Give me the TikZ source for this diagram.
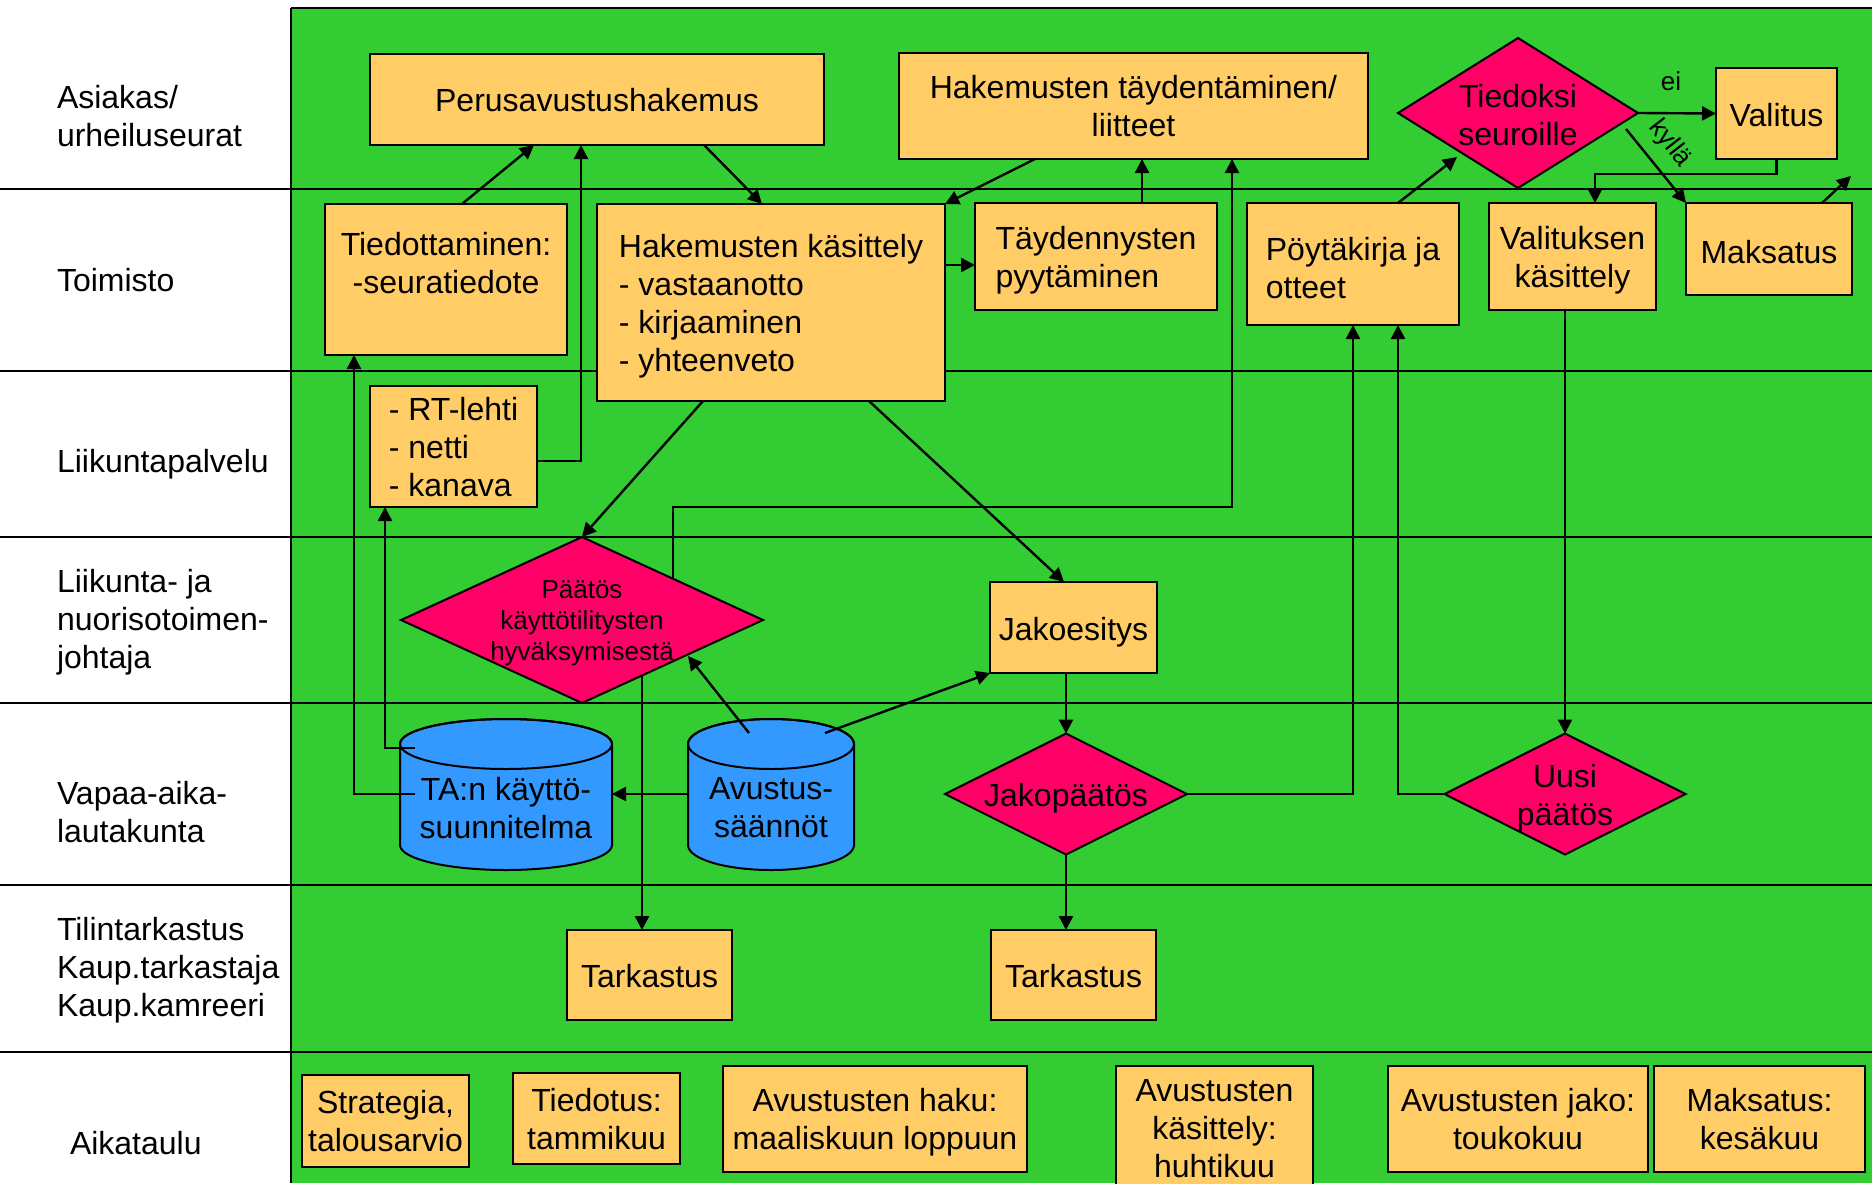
\documentclass[tikz,border=0pt]{standalone}
\usepackage{fontspec}
\setmainfont{Liberation Sans}
\usetikzlibrary{shapes.geometric,arrows.meta,calc}
\definecolor{gr}{HTML}{33CC33}
\definecolor{bx}{HTML}{FFCC66}
\definecolor{pk}{HTML}{FF0066}
\definecolor{bl}{HTML}{3399FF}
\newcommand{\lstrut}{\rule[-4.6pt]{0pt}{20.8pt}}
\newcommand{\mstrut}{\rule[-4.6pt]{0pt}{22pt}}
\newcommand{\hstrut}{\rule[-4.6pt]{0pt}{23.2pt}}
\newcommand{\sstrut}{\rule[-3.7pt]{0pt}{16.6pt}}
\newcommand{\firststrut}{\rule{0pt}{16.4pt}}
\newcommand{\firststruth}{\rule{0pt}{20pt}}
\begin{document}
\begin{tikzpicture}[x=0.5pt,y=-0.5pt,
  every node/.style={inner sep=0pt, outer sep=0pt},
  st/.style={execute at begin node=\lstrut, execute at end node=\lstrut},
  stm/.style={execute at begin node=\mstrut, execute at end node=\mstrut},
  sth/.style={execute at begin node=\hstrut, execute at end node=\hstrut},
  sst/.style={execute at begin node=\sstrut, execute at end node=\sstrut},
  txt/.style={font=\fontsize{16}{19}\selectfont, align=center, st},
  box/.style={draw, fill=bx, line width=1pt, txt},
  sz/.style 2 args={minimum width=#1*0.5pt, minimum height=#2*0.5pt},
  dia/.style={draw, fill=pk, line width=1pt, diamond},
  arr/.style={line width=1.2pt, -{Triangle[length=7pt,width=7pt]}},
  lane/.style={line width=1pt},
  lab/.style={font=\fontsize{16}{19}\selectfont, align=left, anchor=west, st},
  small/.style={font=\fontsize{13}{15.5}\selectfont, align=center, sst}
]
\useasboundingbox (0,0) rectangle (1872,1183);
\fill[white] (0,0) rectangle (1872,1183);
\fill[gr] (291,8) rectangle (1872,1183);
\draw[lane] (291,8) -- (1872,8);
\draw[lane] (291,8) -- (291,1183);
\foreach \yy in {189,371,537,703,885,1052} {\draw[lane] (0,\yy) -- (1872,\yy);}

% lane labels
\node[lab] (L1) at (57,116) {\firststrut Asiakas/\\urheiluseurat};
\node[lab, stm] (L2) at (57,279) {Toimisto};
\node[lab] (L3) at (57,461) {Liikuntapalvelu};
\node[lab] (L4) at (57,619) {\firststrut Liikunta- ja\\nuorisotoimen-\\johtaja};
\node[lab] (L5) at (57,812) {\firststrut Vapaa-aika-\\lautakunta};
\node[lab] (L6) at (57,967) {\firststrut Tilintarkastus\\Kaup.tarkastaja\\Kaup.kamreeri};
\node[lab] (L7) at (70,1143) {Aikataulu};

% nodes
\node[box, sz={454}{91}] (P) at (597,99.5) {Perusavustushakemus};
\node[box, sz={469}{106}] (HT) at (1133.5,106) {\firststrut Hakemusten täydentäminen/\\liitteet};
\node[dia, sz={240}{150}] (TS) at (1518,113) {};
\node[txt] (TSt) at (1518,119.8) {Tiedoksi\\seuroille};
\node[box, stm, sz={121}{91}] (VA) at (1776.5,113.5) {Valitus};
\node[box, sth, sz={166}{92}] (MA) at (1769,249) {Maksatus};
\node[box, sz={167}{107}] (VK) at (1572.5,256.5) {\firststrut Valituksen\\käsittely};
\node[box, sz={212}{122}, align=left] (PK) at (1353,264) {\firststruth Pöytäkirja ja\\otteet};
\node[box, sz={242}{107}, align=left] (TP) at (1096,256.5) {\firststrut Täydennysten\\pyytäminen};
\node[box, sz={348}{197}, align=left] (HK) at (771,302.5) {\firststrut Hakemusten käsittely\\- vastaanotto\\- kirjaaminen\\- yhteenveto};
\node[box, sz={242}{151}] (TI) at (446,279.5) {};
\node[txt] (TIt) at (446,267.8) {Tiedottaminen:\\-seuratiedote};
\node[box, sz={167}{121}, align=left] (RT) at (453.5,446.5) {\firststrut - RT-lehti\\- netti\\- kanava};
\node[dia, sz={362}{166}] (PD) at (582,620) {};
\node[small] (PDt) at (582,624.6) {Päätös\\käyttötilitysten\\hyväksymisestä};
\node[box, stm, sz={167}{91}] (JE) at (1073.5,627.5) {Jakoesitys};
\node[dia, sz={242}{121}] (JP) at (1066,794) {};
\node[txt] (JPt) at (1066,795) {Jakopäätös};
\node[dia, sz={241}{121}] (UP) at (1565,794) {};
\node[txt] (UPt) at (1565,799.5) {Uusi\\päätös};
\node[box, stm, sz={165}{90}] (T1) at (649.5,975) {Tarkastus};
\node[box, stm, sz={165}{90}] (T2) at (1073.5,975) {Tarkastus};

% cylinders
\filldraw[fill=bl, line width=1pt] (400,744) -- (400,845) arc[start angle=180,end angle=360,x radius=53pt,y radius=12.5pt] -- (612,744) arc[start angle=0,end angle=180,x radius=53pt,y radius=12.5pt] -- cycle;
\draw[line width=1pt] (506,744) ellipse [x radius=53pt, y radius=12.5pt];
\node[txt] (TA) at (506,812.5) {TA:n käyttö-\\suunnitelma};
\filldraw[fill=bl, line width=1pt] (688,744) -- (688,845) arc[start angle=180,end angle=360,x radius=41.5pt,y radius=12.5pt] -- (854,744) arc[start angle=0,end angle=180,x radius=41.5pt,y radius=12.5pt] -- cycle;
\draw[line width=1pt] (771,744) ellipse [x radius=41.5pt, y radius=12.5pt];
\node[txt] (AV) at (771,812.5) {Avustus-\\säännöt};

% bottom schedule
\begin{scope}
\clip (0,0) rectangle (1872,1183);
\node[box, sz={167}{92}] (B1) at (385.5,1121) {\firststrut Strategia,\\talousarvio};
\node[box, sz={167}{91}] (B2) at (596.5,1118.5) {\firststrut Tiedotus:\\tammikuu};
\node[box, sz={304}{106}] (B3) at (875,1119) {\firststrut Avustusten haku:\\maaliskuun loppuun};
\node[box, sz={197}{124}] (B4) at (1214.5,1128) {\firststrut Avustusten\\käsittely:\\huhtikuu};
\node[box, sz={260}{106}] (B5) at (1518,1119) {\firststrut Avustusten jako:\\toukokuu};
\node[box, sz={211}{106}] (B6) at (1759.5,1119) {\firststrut Maksatus:\\kesäkuu};
\end{scope}

% connectors
\draw[arr] ($(TI.north)+(16,0)$) -- ($(P.south)+(-63,0)$);
\draw[arr] ($(P.south)+(107,0)$) -- ($(HK.north)+(-9,0)$);
\draw[arr] ($(HT.south)+(-98.5,0)$) -- (HK.north east);
\coordinate (a1) at ($(HK.east)+(0,-37.5)$);
\draw[arr] (a1) -- (a1 -| TP.west);
\coordinate (a2) at ($(TP.north)+(46,0)$);
\draw[arr] (a2) -- (a2 |- HT.south);
\draw[arr] ($(HK.south)+(-68,0)$) -- (PD.north);
\draw[arr] ($(HK.south)+(98,0)$) -- ($(JE.north)+(-9.5,0)$);
\coordinate (c1) at (673,579);
\coordinate (c1b) at (673,507);
\coordinate (htin) at ($(HT.south)+(98.5,0)$);
\draw[arr] (c1) -- (c1b) -| (htin);
\coordinate (c2) at (642,675.5);
\draw[arr] (c2) -- (c2 |- T1.north);
\coordinate (av1) at (749,733);
\coordinate (pdin) at (688,656);
\draw[arr] (av1) -- (pdin);
\coordinate (av2) at (825,733);
\draw[arr] (av2) -- (JE.south west);
\coordinate (av3) at (688,794);
\coordinate (ta3) at (612,794);
\draw[arr] (av3) -- (ta3);
\coordinate (ta1) at (415,794);
\draw[arr] (ta1) -| ($(TI.south)+(-92,0)$);
\coordinate (ta2) at (415,748);
\draw[arr] (ta2) -| ($(RT.south)+(-68.5,0)$);
\draw[arr] ($(RT.east)+(0,14.5)$) -| ($(P.south)+(-16,0)$);
\draw[arr] (JE.south -| JP.north) -- (JP.north);
\draw[arr] (JP.south) -- (JP.south |- T2.north);
\draw[arr] (JP.east) -| (PK.south);
\draw[arr] (UP.west) -| ($(PK.south)+(45,0)$);
\draw[arr] (UP.north |- VK.south) -- (UP.north);
\coordinate (tsin) at (1457,157);
\draw[arr] ($(PK.north)+(45,0)$) -- (tsin);
\draw[arr] (TS.east) -- (VA.west);
\node[small] (ei) at (1671,81) {ei};
\coordinate (ts2) at (1626,129);
\draw[arr] (ts2) -- (MA.north west);
\node[small, rotate=-52] (kylla) at (1672,142) {kyllä};
\coordinate (vb) at (1595,174);
\draw[arr] (VA.south) |- (vb) -- (vb |- VK.north);
\coordinate (out) at (1851,176);
\draw[arr] ($(MA.north)+(53,0)$) -- (out);
\end{tikzpicture}
\end{document}
